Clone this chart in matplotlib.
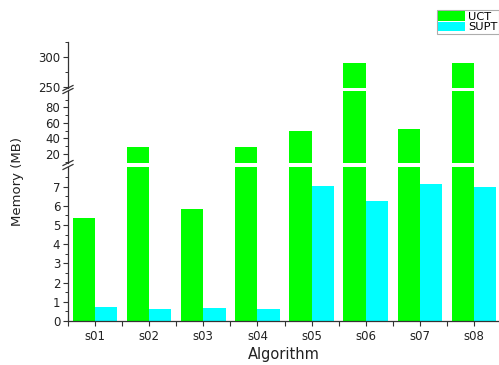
import matplotlib
matplotlib.use("Agg")
import matplotlib.pyplot as plt
from matplotlib.lines import Line2D
from matplotlib.patches import Patch
import numpy as np

# data
labels = ["s01", "s02", "s03", "s04", "s05", "s06", "s07", "s08"]
uct = [5.38, 29.0, 5.82, 28.6, 50.0, 289.0, 52.5, 290.5]
supt = [0.71, 0.63, 0.68, 0.63, 7.05, 6.25, 7.14, 7.0]

W, H = 499, 365
fig = plt.figure(figsize=(W / 100, H / 100), dpi=100)

def fx(px):
    return px / W

def fy(py):
    return 1 - py / H

left = fx(68)
width = fx(501) - left

# three segments of the broken y axis (pixel rows top->bottom)
segs = [
    # (top px, bottom px, ylim, major, minor)
    (42, 88, (247.8, 324.5), [250, 300], [275, 325]),
    (91, 163, (8.4, 101), [20, 40, 60, 80], [10, 30, 50, 70, 90]),
    (167, 321, (0, 8.02), list(range(0, 8)), list(np.arange(0.5, 8, 1.0))),
]

x = np.arange(1, len(labels) + 1)
bw = 0.41
green = "#00FF00"
cyan = "#00FFFF"
dark = "#333333"

axes = []
for top, bot, lim, major, minor in segs:
    ax = fig.add_axes([left, fy(bot), width, fy(top) - fy(bot)])
    ax.bar(x - bw / 2, uct, bw, color=green, edgecolor="none")
    ax.bar(x + bw / 2, supt, bw, color=cyan, edgecolor="none")
    ax.set_ylim(*lim)
    ax.set_xlim(0.5, 8.5)
    ax.set_yticks(major)
    ax.set_yticks(minor, minor=True)
    for s in ["top", "right", "bottom"]:
        ax.spines[s].set_visible(False)
    ax.spines["left"].set_color(dark)
    ax.spines["left"].set_linewidth(0.9)
    ax.tick_params(axis="y", which="major", direction="out", length=3.5, width=0.8,
                   color=dark, labelsize=8.5, labelcolor="#222222", pad=2)
    ax.tick_params(axis="y", which="minor", direction="out", length=2, width=0.7, color=dark)
    ax.set_xticks([])
    ax.patch.set_alpha(0)
    axes.append(ax)

ax = axes[-1]
ax.spines["bottom"].set_visible(True)
ax.spines["bottom"].set_color(dark)
ax.spines["bottom"].set_linewidth(0.9)
ax.set_xticks(x)
ax.set_xticklabels(labels)
ax.set_xticks(np.arange(0.5, 9, 1.0), minor=True)
ax.tick_params(axis="x", which="major", direction="out", length=3.5, width=0.8,
               color=dark, labelsize=8.5, labelcolor="#222222", pad=3)
ax.tick_params(axis="x", which="minor", direction="out", length=3.5, width=0.8, color=dark)

# break marks on the y axis
for py in [88, 91, 163, 167]:
    fig.add_artist(Line2D([fx(63), fx(73)], [fy(py + 2.5), fy(py - 2.5)],
                          transform=fig.transFigure, color=dark, lw=0.9))

fig.text(fx(18), fy(182), "Memory (MB)", rotation=90, ha="center", va="center",
         fontsize=9.5, color="#222222")
fig.text(fx(284), fy(355), "Algorithm", ha="center", va="center",
         fontsize=10.5, color="#222222")

handles = [Patch(facecolor=green, edgecolor="none"), Patch(facecolor=cyan, edgecolor="none")]
leg = fig.legend(handles, ["UCT", "SUPT"], loc="upper left",
                 bbox_to_anchor=(fx(437), fy(10)), fontsize=8.2, frameon=True,
                 fancybox=False, handlelength=2.4, handleheight=0.9,
                 labelspacing=0.0, borderpad=0.1, borderaxespad=0,
                 handletextpad=0.25)
leg.get_frame().set_edgecolor("#999999")
leg.get_frame().set_linewidth(0.8)

fig.savefig("out.png", dpi=100)
